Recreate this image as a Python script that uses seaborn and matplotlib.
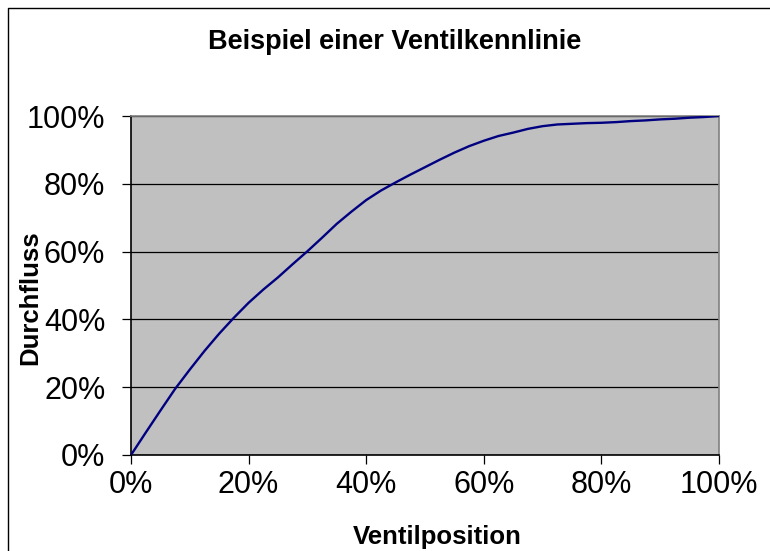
import pandas as pd
import matplotlib
matplotlib.use('Agg')
import matplotlib.pyplot as plt
import seaborn as sns
from matplotlib.ticker import PercentFormatter
from matplotlib.lines import Line2D

# Ventilposition vs. Durchfluss (fractions of 100%)
position = [0.000, 0.025, 0.050, 0.075, 0.100, 0.125, 0.150, 0.175, 0.200, 0.225,
            0.250, 0.275, 0.300, 0.325, 0.350, 0.375, 0.400, 0.425, 0.450, 0.475,
            0.500, 0.525, 0.550, 0.575, 0.600, 0.625, 0.650, 0.675, 0.700, 0.725,
            0.750, 0.775, 0.800, 0.825, 0.850, 0.875, 0.900, 0.925, 0.950, 0.975, 1.000]
durchfluss = [0.000, 0.066, 0.131, 0.195, 0.252, 0.307, 0.358, 0.405, 0.449, 0.488,
              0.524, 0.563, 0.601, 0.641, 0.682, 0.718, 0.752, 0.780, 0.804, 0.827,
              0.849, 0.871, 0.892, 0.911, 0.927, 0.941, 0.951, 0.962, 0.970, 0.975,
              0.977, 0.979, 0.980, 0.982, 0.985, 0.987, 0.990, 0.992, 0.995, 0.997, 1.000]
ticks = [0.0, 0.2, 0.4, 0.6, 0.8, 1.0]

data = pd.DataFrame({'Ventilposition': position, 'Durchfluss': durchfluss})

plt.rcParams['font.family'] = ['Liberation Sans', 'DejaVu Sans']

fig = plt.figure(figsize=(7.7, 5.51), dpi=100)
ax = fig.add_axes([131 / 770, 1 - 455 / 551, 588 / 770, 339 / 551])
ax.set_facecolor('#C0C0C0')

sns.lineplot(x='Ventilposition', y='Durchfluss', data=data, ax=ax,
             color='#000080', linewidth=1.7, zorder=3)

ax.set_xlim(0, 1)
ax.set_ylim(0, 1)
ax.set_xticks(ticks)
ax.set_yticks(ticks)
ax.xaxis.set_major_formatter(PercentFormatter(1.0, decimals=0))
ax.yaxis.set_major_formatter(PercentFormatter(1.0, decimals=0))
ax.grid(axis='y', color='black', linewidth=0.9, zorder=1)
ax.set_axisbelow(True)

ax.tick_params(axis='both', direction='out', length=6.5, width=0.9, color='black',
               labelsize=22)
ax.tick_params(axis='y', pad=12)
ax.tick_params(axis='x', pad=4)

ax.spines['left'].set_color('black')
ax.spines['bottom'].set_color('black')
ax.spines['top'].set_color('#808080')
ax.spines['right'].set_color('#808080')
for s in ax.spines.values():
    s.set_linewidth(1.2)

ax.set_xlabel('')
ax.set_ylabel('')

fig.text(395 / 770, 1 - 42 / 551, 'Beispiel einer Ventilkennlinie', ha='center', va='center',
         fontsize=19.5, fontweight='bold')
fig.text(437 / 770, 1 - 537 / 551, 'Ventilposition', ha='center', va='center',
         fontsize=18.5, fontweight='bold')
fig.text(30 / 770, 1 - 298 / 551, 'Durchfluss', ha='center', va='center', rotation=90,
         fontsize=18.5, fontweight='bold')

# outer chart border (only top and left edges lie inside the picture)
bx, by = 8 / 770, 1 - 8 / 551
fig.add_artist(Line2D([bx, bx, 1.0], [0.0, by, by], transform=fig.transFigure,
                      color='black', linewidth=1.0))

fig.savefig('out.png', dpi=100)
